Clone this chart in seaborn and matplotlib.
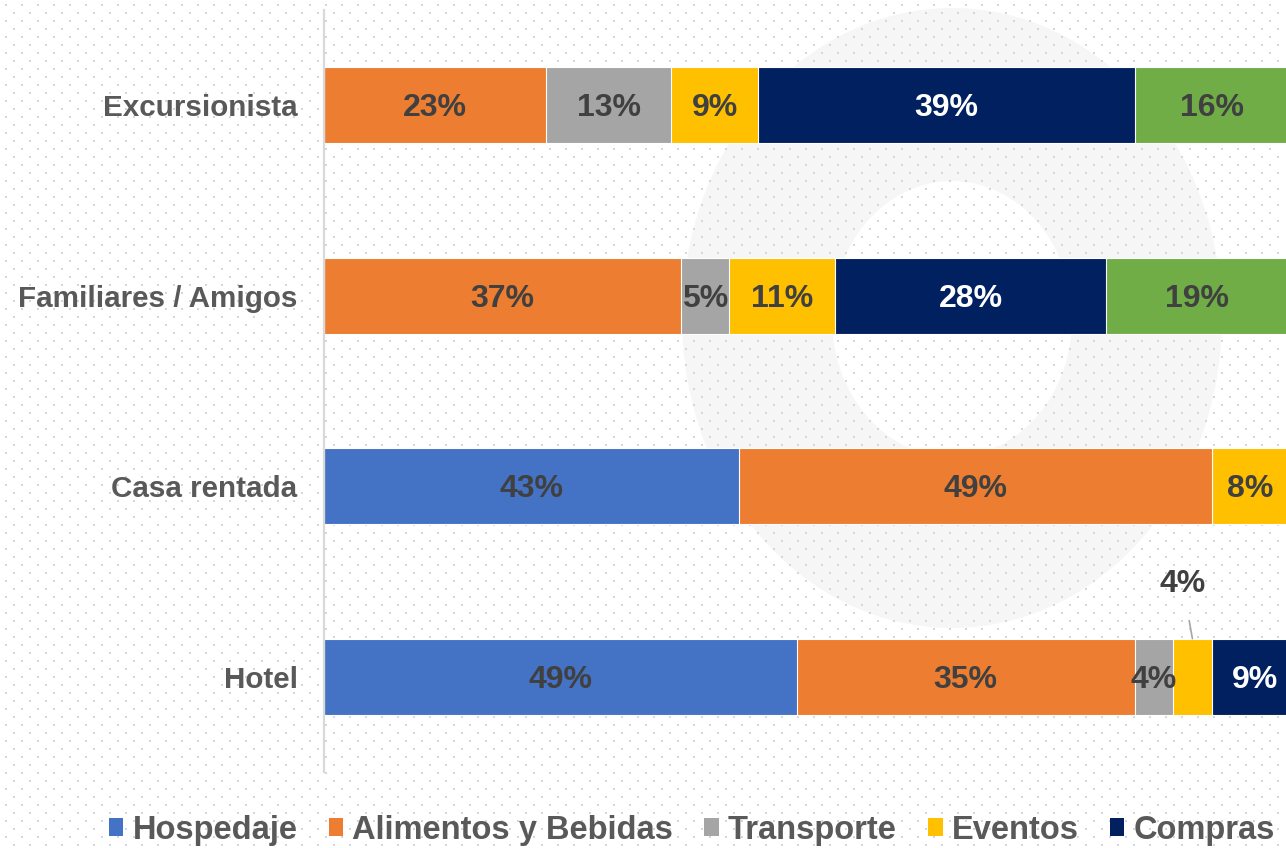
import numpy as np
import pandas as pd
import matplotlib
matplotlib.use("Agg")
import matplotlib.pyplot as plt
from matplotlib.patches import Patch, Ellipse
import seaborn as sns

# ---------------- data ----------------
categories = ["Excursionista", "Familiares / Amigos", "Casa rentada", "Hotel"]
series_names = ["Hospedaje", "Alimentos y Bebidas", "Transporte", "Eventos", "Compras", "Otros"]
hospedaje = [0, 0, 43, 49]
alimentos = [23, 37, 49, 35]
transporte = [13, 5, 0, 4]
eventos = [9, 11, 8, 4]
compras = [39, 28, 0, 9]
otros = [16, 19, 0, 0]
legend_series = ["Hospedaje", "Alimentos y Bebidas", "Transporte", "Eventos", "Compras"]

colors = {
    "Hospedaje": "#4472C4",
    "Alimentos y Bebidas": "#ED7D31",
    "Transporte": "#A5A5A5",
    "Eventos": "#FFC000",
    "Compras": "#002060",
    "Otros": "#70AD47",
}

values = [hospedaje, alimentos, transporte, eventos, compras, otros]
df = pd.DataFrame({n: v for n, v in zip(series_names, values)}, index=categories)
cum = df.cumsum(axis=1)

sns.set_theme(style="white")
plt.rcParams["font.family"] = ["Liberation Sans", "DejaVu Sans"]

fig = plt.figure(figsize=(12.86, 8.48), dpi=100)
fig.patch.set_facecolor("white")

# background decoration: faint watermark ring and dotted pattern
bg = fig.add_axes([0, 0, 1, 1], zorder=-10)
bg.set_xlim(0, 1286)
bg.set_ylim(848, 0)
bg.axis("off")
bg.add_patch(Ellipse((952, 318), 540, 620, facecolor="#F6F6F6", edgecolor="none"))
bg.add_patch(Ellipse((952, 319), 240, 276, facecolor="white", edgecolor="none"))
xs1 = np.arange(6, 1286, 16)
ys1 = np.arange(5, 848, 16)
xs2 = np.arange(14, 1286, 16)
ys2 = np.arange(13, 848, 16)
X1, Y1 = np.meshgrid(xs1, ys1)
X2, Y2 = np.meshgrid(xs2, ys2)
bg.scatter(np.concatenate([X1.ravel(), X2.ravel()]), np.concatenate([Y1.ravel(), Y2.ravel()]),
           s=2.2, marker="s", color="#D3D5E6", linewidths=0)

ax = fig.add_axes([324 / 1286, 76 / 848, 962 / 1286, 762 / 848])
ax.set_facecolor("none")

long = []
for cat in categories:
    for n in series_names:
        long.append({"cat": cat, "series": n, "cum": cum.loc[cat, n], "val": df.loc[cat, n]})
long = pd.DataFrame(long)

# draw cumulative bars from last to first so shorter ones overlay
for n in reversed(series_names):
    sub = long[long.series == n]
    sns.barplot(data=sub, x="cum", y="cat", order=categories, color=colors[n],
                orient="h", width=0.4, ax=ax, saturation=1,
                edgecolor="white", linewidth=0.8)

ax.set_xlim(0, 99.7)
ax.set_ylim(3.5, -0.5)
ax.set_xlabel("")
ax.set_ylabel("")
ax.set_xticks([])
for s in ["top", "right", "bottom"]:
    ax.spines[s].set_visible(False)
ax.spines["left"].set_color("#D9D9D9")
ax.spines["left"].set_linewidth(1.6)
ax.tick_params(axis="y", length=0, pad=19)
for lab in ax.get_yticklabels():
    lab.set_fontsize(21.3)
    lab.set_fontweight("bold")
    lab.set_color("#595959")

# data labels
for i, cat in enumerate(categories):
    for n in series_names:
        v = df.loc[cat, n]
        if v <= 0:
            continue
        center = cum.loc[cat, n] - v / 2
        txtcol = "white" if n == "Compras" else "#404040"
        if cat == "Hotel" and n == "Eventos":
            ax.annotate(f"{v}%", xy=(center, i - 0.2), xytext=(-7, 39),
                        textcoords="offset points", ha="center", va="center",
                        fontsize=23, fontweight="bold", color="#404040",
                        arrowprops=dict(arrowstyle="-", color="#A6A6A6", lw=1.2,
                                        shrinkA=13, shrinkB=0))
        else:
            ax.annotate(f"{v}%", xy=(center, i), xytext=(0, -2),
                        textcoords="offset points", ha="center", va="center",
                        fontsize=23, fontweight="bold", color=txtcol)

handles = [Patch(facecolor=colors[n], edgecolor="none", label=n) for n in legend_series]
leg = fig.legend(handles=handles, loc="center", bbox_to_anchor=(0.538, 0.021), ncol=5,
                 frameon=False, handlelength=0.45, handleheight=0.45, handletextpad=0.28,
                 columnspacing=0.95, prop={"size": 23.5, "weight": "bold"})
for t in leg.get_texts():
    t.set_color("#595959")

fig.savefig("out.png", dpi=100, facecolor="white")
